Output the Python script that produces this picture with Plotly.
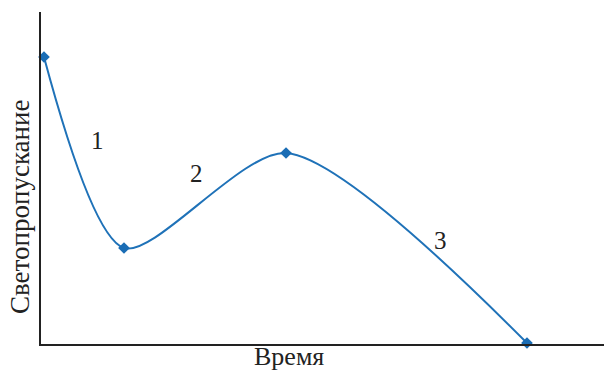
import plotly.graph_objects as go

# measured points (time, transmittance, arbitrary units)
time_vals = [0.53, 14.74, 43.52, 86.32]
transmittance = [86.45, 28.92, 57.53, 0.30]

stage_labels = ["1", "2", "3"]
stage_x = [9.95, 27.7, 71.0]
stage_y = [61.4, 51.5, 31.3]

fig = go.Figure()
fig.add_trace(go.Scatter(
    x=time_vals, y=transmittance, mode="lines+markers",
    line=dict(color="#1f72b8", width=2, shape="spline", smoothing=0.75),
    marker=dict(symbol="diamond", size=9, color="#1a6db5"),
    showlegend=False, cliponaxis=False,
))

for t, x, y in zip(stage_labels, stage_x, stage_y):
    fig.add_annotation(x=x, y=y, text=t, showarrow=False,
                       font=dict(family="Liberation Serif", size=25, color="#222"))

fig.add_annotation(xref="paper", yref="paper", x=(289-41)/563, y=-12/332,
                   text="Время", showarrow=False, yanchor="middle",
                   font=dict(family="Liberation Serif", size=26, color="#222"))
fig.add_annotation(xref="paper", yref="paper", x=-21/563, y=(344-207)/332,
                   text="Светопропускание", showarrow=False, textangle=-90,
                   xanchor="center", yanchor="middle",
                   font=dict(family="Liberation Serif", size=27, color="#222"))

fig.update_layout(
    width=604, height=370,
    margin=dict(l=41, r=0, t=12, b=26),
    plot_bgcolor="white", paper_bgcolor="white",
    xaxis=dict(range=[0, 100], showline=True, linecolor="#222", linewidth=1.5,
               showgrid=False, zeroline=False, showticklabels=False, ticks=""),
    yaxis=dict(range=[0, 100], showline=True, linecolor="#222", linewidth=1.5,
               showgrid=False, zeroline=False, showticklabels=False, ticks=""),
)
fig.write_html("out.html", config={"displayModeBar": False},
               post_script="document.body.style.margin='0';")
